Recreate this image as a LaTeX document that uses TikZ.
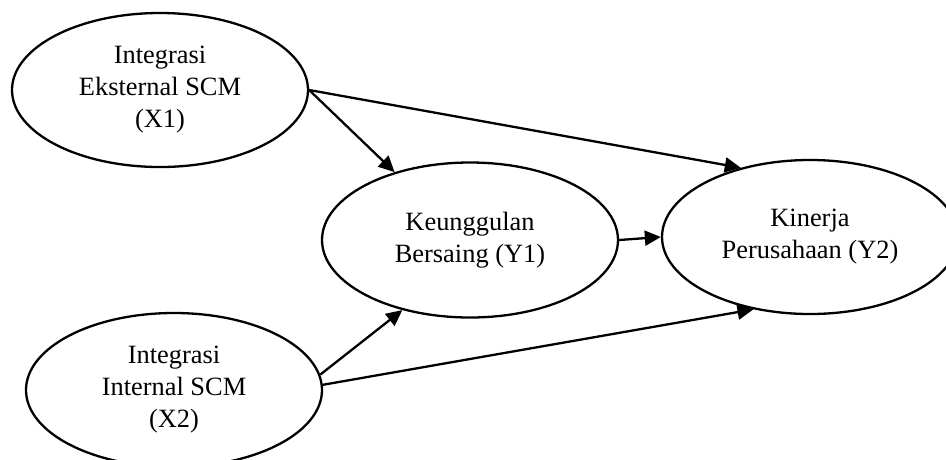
\documentclass[tikz,border=0pt]{standalone}
\usepackage{fontspec}
\setmainfont{Liberation Serif}
\usetikzlibrary{shapes.geometric,arrows.meta}
\begin{document}
\begin{tikzpicture}[x=1pt,y=-1pt,
	var/.style={draw, ellipse, line width=2.3pt, minimum width=296pt, minimum height=154pt, inner sep=0pt, align=center, font=\fontsize{26.4}{32}\selectfont},
	link/.style={-{Triangle[length=16pt,width=15pt]}, line width=2.3pt}]
	\useasboundingbox (0,0) rectangle (946,459);
	\clip (0,0) rectangle (946,459);
	\node[var] (x1) at (160,90) {Integrasi\\Eksternal SCM\\(X1)};
	\node[var] (x2) at (174,390) {Integrasi\\Internal SCM\\(X2)};
	\node[var, minimum height=155pt] (y1) at (470,240) {Keunggulan\\Bersaing (Y1)};
	\node[var] (y2) at (810,237) {Kinerja\\Perusahaan (Y2)};
	\draw[link] (x1.east) -- (y1.138);
	\draw[link] (x1.east) -- (y2.135);
	\draw[link] (x2.6) -- (y1.226);
	\draw[link] (x2.2) -- (y2.232);
	\draw[link] (y1.east) -- (y2.west);
\end{tikzpicture}
\end{document}
